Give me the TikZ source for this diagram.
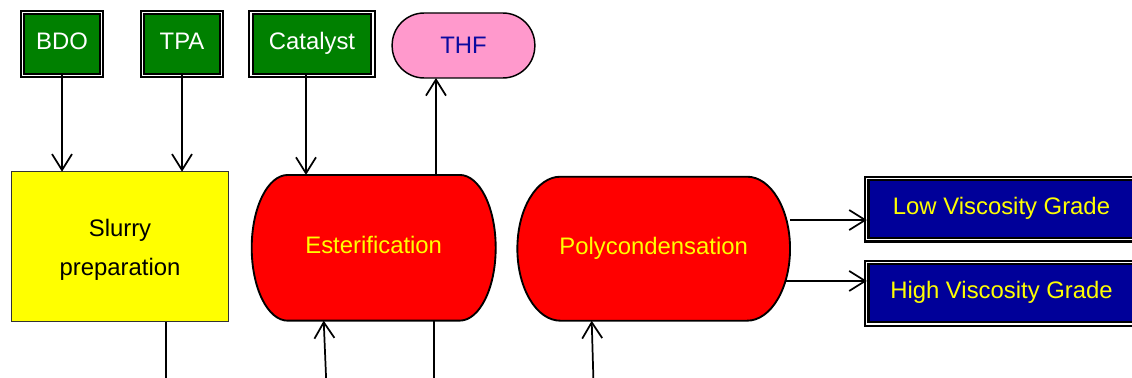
\documentclass[tikz,border=0pt]{standalone}
\usepackage{fontspec}
\setmainfont{Liberation Sans}
\usetikzlibrary{arrows.meta,calc,backgrounds}
\definecolor{boxgreen}{RGB}{0,128,0}
\definecolor{boxnavy}{RGB}{0,0,153}
\definecolor{thfpink}{RGB}{255,153,204}
\definecolor{thftext}{RGB}{10,10,160}
\definecolor{slurryyellow}{RGB}{255,255,0}
\definecolor{reactorred}{RGB}{255,0,0}
\definecolor{gradeyellow}{RGB}{255,255,0}
\begin{document}
\begin{tikzpicture}[x=0.75pt,y=0.75pt,
  every node/.style={font=\fontsize{17.9}{29}\selectfont, inner sep=0pt, outer sep=0pt},
  dblframe/.style={rectangle, draw=black, line width=1.6pt, double=white, double distance=0.8pt},
  raised/.style={text height=13pt, text depth=4.5pt},
  feedbox/.style={dblframe, raised, fill=boxgreen, text=white, minimum height=47pt},
  gradebox/.style={dblframe, raised, fill=boxnavy, text=gradeyellow, minimum width=202pt, minimum height=46pt},
  ventbox/.style={rectangle, rounded corners=24pt, draw=black, line width=1.1pt, fill=thfpink, text=thftext, minimum width=107pt, minimum height=48.75pt},
  prepbox/.style={rectangle, draw=black!80, line width=0.75pt, fill=slurryyellow, text=black, align=center, minimum width=162.5pt, minimum height=112.5pt},
  reactor/.style={rectangle, text=gradeyellow},
  reactorline/.style={draw=black, line width=1.4pt, fill=reactorred},
  conn/.style={draw=black, line width=1.3pt, -{Straight Barb[length=12pt,width=15pt,line width=1.3pt]}},
  plainline/.style={draw=black, line width=1.3pt}
]
\useasboundingbox (0,0) rectangle (1132,-378);
\clip (0,0) rectangle (1132,-378);

% feed boxes
\node[feedbox, minimum width=59pt] (bdo) at (62,-44) {BDO};
\node[feedbox, minimum width=59pt] (tpa) at (182,-44) {TPA};
\node[feedbox, minimum width=91.5pt] (cat) at (312,-44) {Catalyst};
\node[ventbox] (thf) at (463.5,-45.5) {THF};

% process units
\node[prepbox] (slurry) at (120,-246.7) {\rule{0pt}{18pt}Slurry\\preparation};
\node[reactor, raised, minimum width=183pt, minimum height=109.3pt] (est) at (373.7,-247.8) {Esterification};
\node[reactor, minimum width=204.5pt, minimum height=108pt] (poly) at (653.7,-248.7) {Polycondensation};

% products
\node[gradebox] (low) at (1001.5,-209.2) {Low Viscosity Grade};
\node[gradebox] (high) at (1001.5,-293.3) {High Viscosity Grade};

% reactor outlines
\begin{scope}[on background layer]
\draw[reactorline] ($(est.north west)+(36,0)$) -- ($(est.north east)+(-36,0)$)
  arc[start angle=90,end angle=-90,x radius=36,y radius=72.85]
  -- ($(est.south west)+(36,0)$)
  arc[start angle=270,end angle=90,x radius=36,y radius=72.85] -- cycle;
\draw[reactorline] ($(poly.north west)+(43,0)$) -- ($(poly.north east)+(-43,0)$)
  arc[start angle=90,end angle=-90,x radius=43,y radius=72]
  -- ($(poly.south west)+(43,0)$)
  arc[start angle=270,end angle=90,x radius=43,y radius=72] -- cycle;
\end{scope}

% coordinates
\coordinate (catout) at ([xshift=-4.5pt]cat.south);
\coordinate (thfout) at ([xshift=46.7pt]est.north);
\coordinate (lowout) at ([yshift=21.5pt]poly.east);
\coordinate (highout) at ([xshift=-3pt,yshift=-24.2pt]poly.east);
\coordinate (sout) at ([xshift=34.5pt]slurry.south);
\coordinate (send) at (166,-400);
\coordinate (ein) at ([xshift=-37.5pt]est.south);
\coordinate (esrc) at (327,-400);
\coordinate (eout) at ([xshift=45.2pt]est.south);
\coordinate (eend) at (434,-400);
\coordinate (pin) at ([xshift=-46.5pt]poly.south);
\coordinate (psrc) at (594,-400);

% connectors
\draw[conn] (bdo.south) -- (bdo.south |- slurry.north);
\draw[conn] (tpa.south) -- (tpa.south |- slurry.north);
\draw[conn] (catout) -- (catout |- est.north);
\draw[conn] (thfout) -- (thfout |- thf.south);
\draw[conn] (lowout) -- (lowout -| low.west);
\draw[conn] (highout) -- (highout -| high.west);
\draw[plainline] (sout) -- (send);
\draw[conn] (esrc) -- (ein);
\draw[plainline] (eout) -- (eend);
\draw[conn] (psrc) -- (pin);
\end{tikzpicture}
\end{document}
